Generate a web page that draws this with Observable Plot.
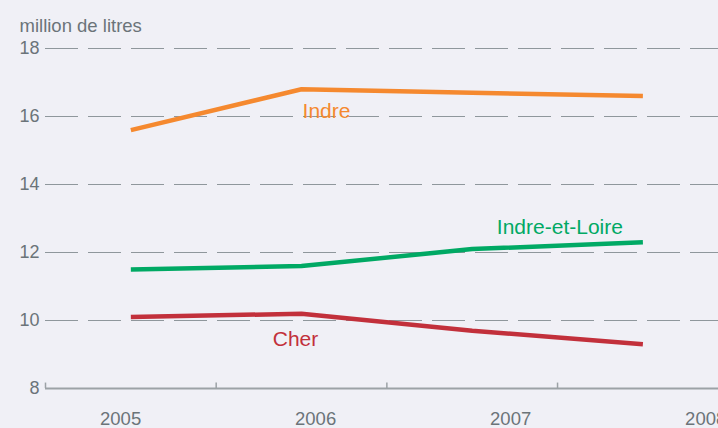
<!DOCTYPE html>
<html>
<head>
<meta charset="utf-8">
<script src="https://cdn.jsdelivr.net/npm/d3@7"></script>
<script src="https://cdn.jsdelivr.net/npm/@observablehq/plot@0.6"></script>
<style>
  html, body { margin: 0; padding: 0; background: #f0f0f6; }
  #chart { width: 718px; height: 428px; overflow: hidden; }
</style>
</head>
<body>
<div id="chart"></div>
<script>
// ---- data ----
const years = [2005, 2006, 2007, 2008];
const seriesNames = ["Indre", "Indre-et-Loire", "Cher"];
const indre = [15.6, 16.8, 16.7, 16.6];
const indreEtLoire = [11.5, 11.6, 12.1, 12.3];
const cher = [10.1, 10.2, 9.7, 9.3];
const yTicks = [8, 10, 12, 14, 16, 18];
const gridValues = [10, 12, 14, 16, 18];
const yearLabels = ["2005", "2006", "2007", "2008"];
const xTickYears = [2004.5, 2005.5, 2006.5, 2007.5];
const unitLabel = "million de litres";
const colors = ["#f5892f", "#00a964", "#c2303b"];

const valuesBySeries = [indre, indreEtLoire, cher];
const table = seriesNames.flatMap((s, k) =>
  years.map((yr, i) => ({ series: s, year: yr, value: valuesBySeries[k][i] }))
);
const byName = (name, yr) => table.filter(d => d.series === name && d.year === yr);

const font = "'Liberation Sans', Arial, Helvetica, sans-serif";
const gray = "#6b7479";

const chart = Plot.plot({
  width: 718,
  height: 428,
  marginLeft: 45,
  marginRight: 0,
  marginTop: 48,
  marginBottom: 40,
  style: { background: "#f0f0f6", fontFamily: font, fontSize: "18px", color: gray, overflow: "visible" },
  x: { domain: [2004.5, 2008.443], axis: null },
  y: { domain: [8, 18], axis: null },
  color: { domain: seriesNames, range: colors },
  marks: [
    Plot.ruleY(gridValues, { stroke: "#8f979c", strokeWidth: 1.2, strokeDasharray: "33,10" }),
    Plot.ruleY([8], { stroke: "#9ca2a6", strokeWidth: 2 }),
    Plot.ruleX(xTickYears, { y1: 8, y2: 8.16, stroke: "#9ca2a6", strokeWidth: 1.5 }),
    Plot.axisY(yTicks, { tickSize: 0, tickPadding: 6, fontSize: 18, color: gray, label: null }),
    Plot.text(yearLabels, {
      x: (d, i) => 2004.94 + i * 1.1426,
      y: () => 8,
      text: d => d,
      dy: 31,
      fontSize: 18.5,
      fill: gray
    }),
    Plot.text([unitLabel], {
      frameAnchor: "top-left",
      textAnchor: "start",
      lineAnchor: "bottom",
      dx: -26,
      dy: -17,
      fontSize: 18.5,
      fill: gray
    }),
    Plot.line(table, { x: "year", y: "value", z: "series", stroke: "series", strokeWidth: 4.5, strokeLinejoin: "miter", strokeLinecap: "butt" }),
    Plot.text(byName("Indre", 2006), { x: "year", y: "value", text: "series", fill: colors[0], textAnchor: "middle", lineAnchor: "bottom", dx: 25, dy: 29, fontSize: 21 }),
    Plot.text(byName("Indre-et-Loire", 2008), { x: "year", y: "value", text: "series", fill: colors[1], textAnchor: "middle", lineAnchor: "bottom", dx: -83, dy: -8, fontSize: 21 }),
    Plot.text(byName("Cher", 2006), { x: "year", y: "value", text: "series", fill: colors[2], textAnchor: "middle", lineAnchor: "bottom", dx: -6, dy: 32, fontSize: 21 })
  ]
});
document.getElementById("chart").appendChild(chart);
</script>
</body>
</html>
